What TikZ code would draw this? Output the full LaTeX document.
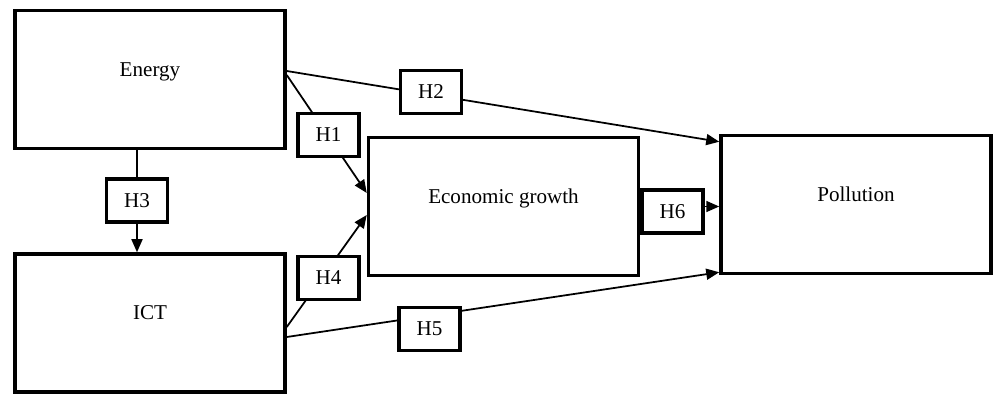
\documentclass[tikz,border=0pt]{standalone}
\usepackage{fontspec}
\setmainfont{Liberation Serif}
\usetikzlibrary{arrows.meta}

\begin{document}
\begin{tikzpicture}[
  var/.style={draw, line width=2pt, fill=white, minimum width=5.40cm, minimum height=2.76cm, text height=8pt, text depth=11.5pt, font=\fontsize{12}{14}\selectfont},
  hyp/.style={draw, line width=2pt, fill=white, minimum width=1.22cm, minimum height=0.86cm, font=\fontsize{12}{14}\selectfont},
  arr/.style={line width=1pt, -{Triangle[length=2.6mm, width=2.2mm]}}
]
\useasboundingbox (0,0) rectangle (20,-7.94);
\node[var] (energy) at (3.00,-1.59) {Energy};
\node[var] (ict) at (3.00,-6.46) {ICT};
\node[var] (econ) at (10.07,-4.13) {Economic growth};
\node[var] (pollution) at (17.12,-4.09) {Pollution};
\draw[arr] ([yshift=0.09cm]energy.east) -- ([yshift=0.27cm]econ.west);
\draw[arr] ([yshift=0.17cm]energy.east) -- ([yshift=-0.16cm]pollution.north west);
\draw[arr] ([xshift=-0.26cm]energy.south) -- ([xshift=-0.26cm]ict.north);
\draw[arr] ([yshift=-0.08cm]ict.east) -- ([yshift=-0.17cm]econ.west);
\draw[arr] ([yshift=-0.28cm]ict.east) -- ([yshift=0.06cm]pollution.south west);
\draw[arr] (econ.east) -- (econ.east -| pollution.west);
\node[hyp] (h1) at (6.57,-2.70) {H1};
\node[hyp] (h2) at (8.62,-1.84) {H2};
\node[hyp] (h3) at (2.74,-4.01) {H3};
\node[hyp] (h4) at (6.57,-5.56) {H4};
\node[hyp] (h5) at (8.59,-6.58) {H5};
\node[hyp] (h6) at (13.45,-4.23) {H6};
\end{tikzpicture}
\end{document}
